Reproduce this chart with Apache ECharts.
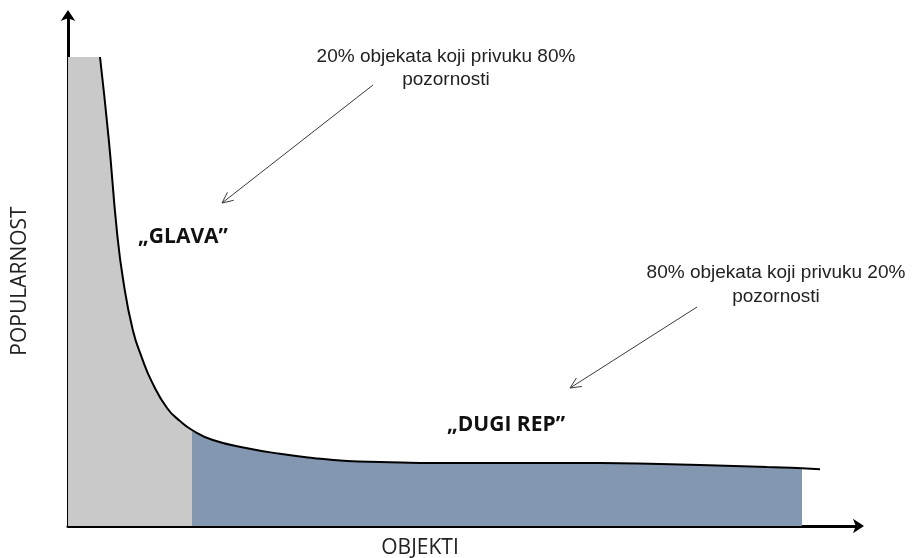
<!DOCTYPE html>
<html>
<head>
<meta charset="utf-8">
<script src="https://cdn.jsdelivr.net/npm/echarts@6/dist/echarts.min.js"></script>
<style>html,body{margin:0;padding:0;background:#fff;}#chart{width:912px;height:558px;}</style>
</head>
<body>
<div id="chart"></div>
<script>
// Objects (x, rank position 0..99) and popularity (y, 0..100)
const curveX = [4.0, 5.1, 6.1, 6.9, 8.1, 9.25, 10.5, 12.4, 14.0, 15.5, 18.1, 22.4, 26.5, 30.6, 34.9, 39.0, 46.5, 56.5, 66.5, 74.0, 79.0, 87.4, 91.75, 94.0];
const curveY = [91.6, 75.4, 57.8, 48.0, 38.3, 32.8, 28.1, 23.0, 20.5, 18.75, 16.8, 15.2, 14.1, 13.3, 12.7, 12.5, 12.3, 12.3, 12.3, 12.1, 11.9, 11.5, 11.3, 11.1];
// flat top of the "head" block
const headTopX = [0, 4.0];
const headTopY = [91.6, 91.6];
// split points: head ends at x=15.5, tail shading ends at x=91.75
const headEnd = 15.5;
const tailEnd = 91.75;

const axisTitles = { x: 'OBJEKTI', y: 'POPULARNOST' };
const labels = {
  headNote: '20% objekata koji privuku 80%\npozornosti',
  tailNote: '80% objekata koji privuku 20%\npozornosti',
  head: '\u201EGLAVA\u201D',
  tail: '\u201EDUGI REP\u201D'
};

const curve = curveX.map((x, i) => [x, curveY[i]]);
const headCurve = curve.filter(p => p[0] <= headEnd);
const tailCurve = curve.filter(p => p[0] >= headEnd && p[0] <= tailEnd);
const headTop = headTopX.map((x, i) => [x, headTopY[i]]);

function arrow(x1, y1, x2, y2) {
  const dx = x2 - x1, dy = y2 - y1, L = Math.hypot(dx, dy);
  const ux = -dx / L, uy = -dy / L, a = 25 * Math.PI / 180, h = 12;
  const w1 = [x2 + h * (ux * Math.cos(a) - uy * Math.sin(a)), y2 + h * (ux * Math.sin(a) + uy * Math.cos(a))];
  const w2 = [x2 + h * (ux * Math.cos(a) + uy * Math.sin(a)), y2 + h * (-ux * Math.sin(a) + uy * Math.cos(a))];
  const st = { stroke: '#3a3a3a', lineWidth: 1, fill: null };
  return [
    { type: 'polyline', shape: { points: [[x1, y1], [x2, y2]] }, style: st, silent: true },
    { type: 'polyline', shape: { points: [w1, [x2, y2], w2] }, style: st, silent: true }
  ];
}

const chart = echarts.init(document.getElementById('chart'), null, { renderer: 'canvas' });
const noteFont = { fontFamily: 'Liberation Sans', fontSize: 19, fill: '#222', lineHeight: 23, align: 'center', verticalAlign: 'top' };
const boldFont = { fontFamily: 'Open Sans', fontWeight: 'bold', fontSize: 21, fill: '#111', align: 'center', verticalAlign: 'middle' };
const axisFont = { fontFamily: 'Open Sans', fontSize: 21, fill: '#222', align: 'center', verticalAlign: 'middle' };
const axisLine = { show: true, lineStyle: { color: '#000', width: 3 }, symbol: ['none', 'arrow'], symbolSize: [11, 11], symbolOffset: [0, 4] };
const SMOOTH = 0.5;

chart.setOption({
  animation: false,
  backgroundColor: '#fff',
  grid: { left: 68, right: 52, top: 14, bottom: 32 },
  xAxis: {
    type: 'value', min: 0, max: 99,
    axisLine: axisLine,
    axisTick: { show: false }, axisLabel: { show: false }, splitLine: { show: false }
  },
  yAxis: {
    type: 'value', min: 0, max: 100,
    axisLine: axisLine,
    axisTick: { show: false }, axisLabel: { show: false }, splitLine: { show: false }
  },
  series: [
    { type: 'line', data: headTop, symbol: 'none', lineStyle: { width: 0 }, areaStyle: { color: '#c9c9c9', opacity: 1 }, z: 1 },
    { type: 'line', data: headCurve, symbol: 'none', smooth: SMOOTH, lineStyle: { width: 0 }, areaStyle: { color: '#c9c9c9', opacity: 1 }, z: 1 },
    { type: 'line', data: tailCurve, symbol: 'none', smooth: SMOOTH, lineStyle: { width: 0 }, areaStyle: { color: '#8497b0', opacity: 1 }, z: 1 },
    { type: 'line', data: curve, symbol: 'none', smooth: SMOOTH, lineStyle: { color: '#000', width: 2 }, z: 3 }
  ],
  graphic: [
    { type: 'text', x: 446, y: 45, style: Object.assign({ text: labels.headNote }, noteFont) },
    { type: 'text', x: 776, y: 261, style: Object.assign({ text: labels.tailNote }, noteFont, { lineHeight: 24 }) },
    { type: 'text', x: 183, y: 237, style: Object.assign({ text: labels.head }, boldFont) },
    { type: 'text', x: 506, y: 425, style: Object.assign({ text: labels.tail }, boldFont) },
    { type: 'text', x: 420, y: 548, style: Object.assign({ text: axisTitles.x }, axisFont) },
    { type: 'text', x: 20, y: 281, rotation: Math.PI / 2, style: Object.assign({ text: axisTitles.y }, axisFont) },
    ...arrow(373, 85, 222, 203),
    ...arrow(697, 307, 570, 388)
  ]
});
</script>
</body>
</html>
